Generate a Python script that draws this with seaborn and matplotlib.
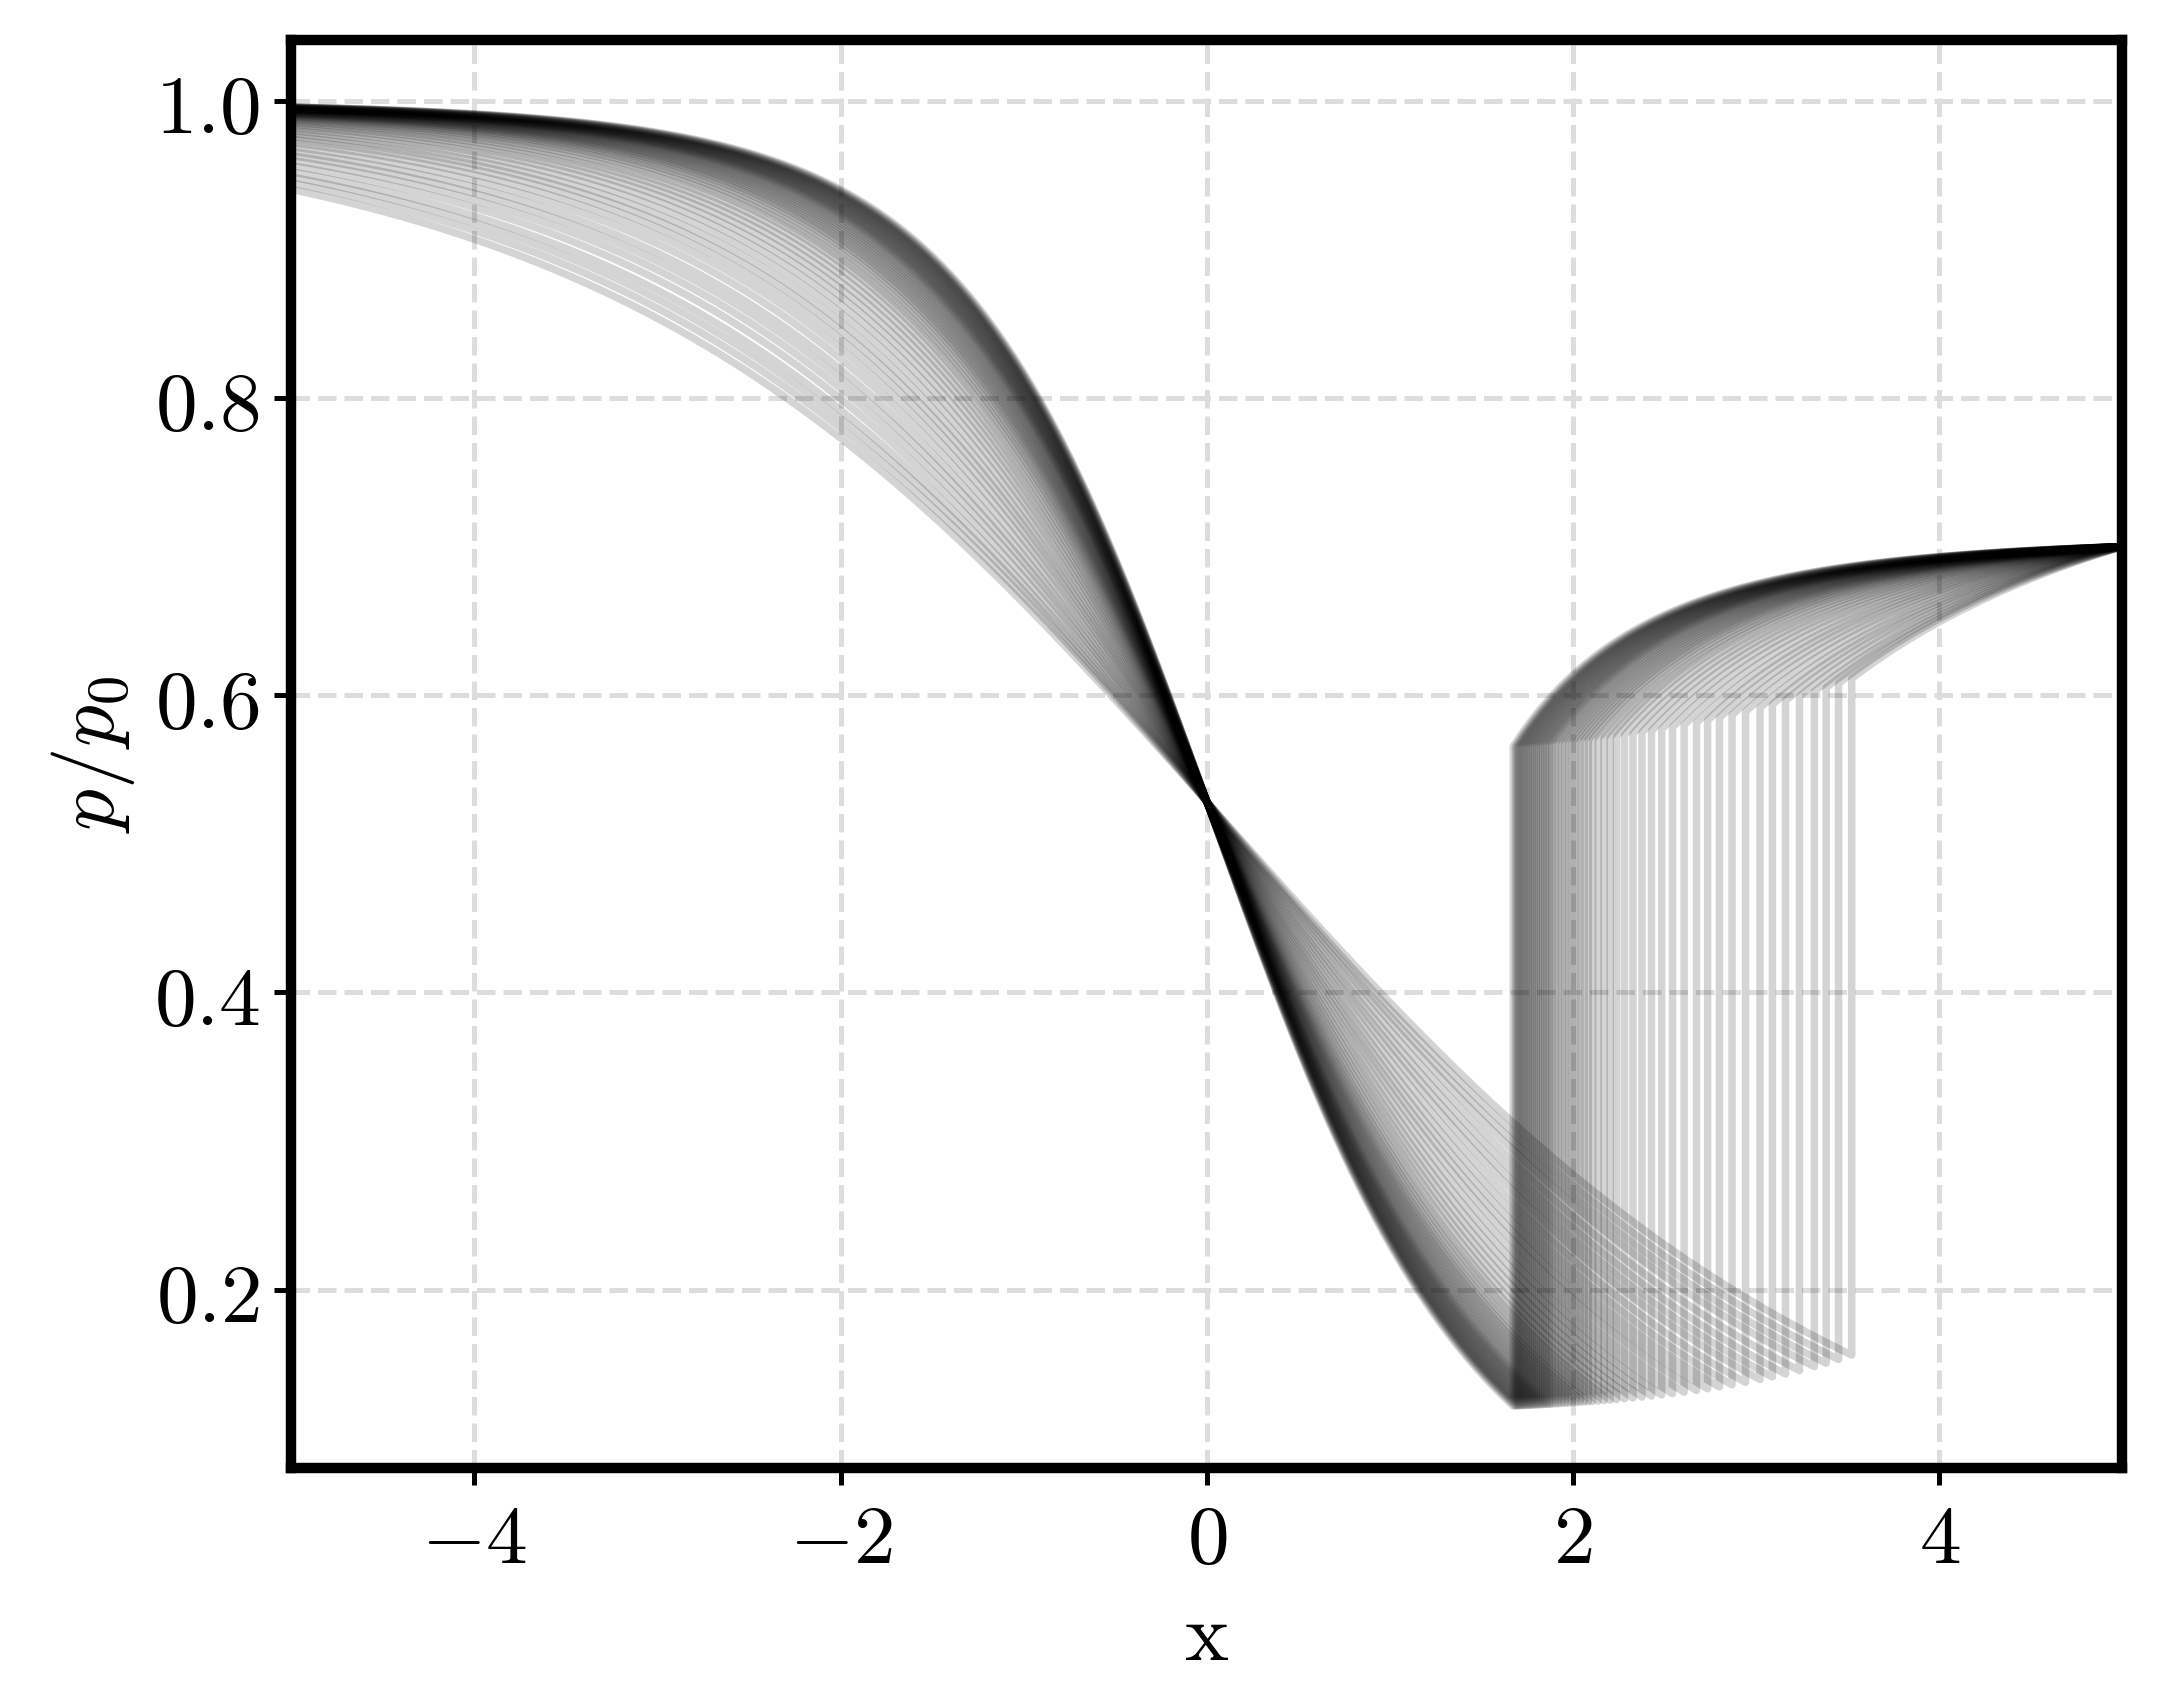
import numpy as np
import matplotlib
matplotlib.use("Agg")
import matplotlib.pyplot as plt
import seaborn as sns

# nozzle area coefficients A(x)=1+k x^2, read from inlet pressures at x=-5
k_values = [0.262, 0.258, 0.255, 0.252, 0.249, 0.246, 0.243, 0.240, 0.237, 0.234,
            0.231, 0.228, 0.225, 0.222, 0.219, 0.216, 0.213, 0.210, 0.207, 0.204,
            0.200, 0.196, 0.192, 0.188, 0.184, 0.180, 0.176, 0.172, 0.168, 0.164,
            0.160, 0.155, 0.150, 0.145, 0.140, 0.134, 0.128, 0.122, 0.116, 0.110,
            0.104, 0.098, 0.092, 0.087, 0.082, 0.077, 0.072, 0.067, 0.063, 0.059,
            0.055, 0.051, 0.048, 0.045, 0.042]
p_exit = 0.70
gamma = 1.4
x_ticks = [-4, -2, 0, 2, 4]
y_ticks = [0.2, 0.4, 0.6, 0.8, 1.0]

g = gamma
def iso(M): return (1 + (g-1)/2*M**2) ** (-g/(g-1))
def area_ratio(M): return (1/M)*((2/(g+1))*(1+(g-1)/2*M**2))**((g+1)/(2*(g-1)))
def mach(ar, sup):
    lo, hi = (1.0, 10.0) if sup else (1e-6, 1.0)
    lo = np.full_like(ar, lo); hi = np.full_like(ar, hi)
    for _ in range(80):
        mid = (lo+hi)/2
        f = area_ratio(mid) - ar
        if sup:
            lo = np.where(f < 0, mid, lo); hi = np.where(f < 0, hi, mid)
        else:
            lo = np.where(f > 0, mid, lo); hi = np.where(f > 0, hi, mid)
    return (lo+hi)/2
def shock(M1):
    M2 = np.sqrt((1+(g-1)/2*M1**2)/(g*M1**2-(g-1)/2))
    p2p1 = 1 + 2*g/(g+1)*(M1**2-1)
    p02p01 = p2p1*iso(M1)/iso(M2)
    return M2, p02p01
def exit_p(k, xs):
    A = lambda x: 1 + k*x**2
    M1 = mach(np.array([A(xs)]), True)
    _, r = shock(M1)
    Me = mach(np.array([A(5.0)*r[0]]), False)
    return r[0]*iso(Me)[0]

sns.set_style("white")
plt.rcParams['mathtext.fontset'] = 'cm'
plt.rcParams['font.family'] = ['DejaVu Serif']
plt.rcParams['text.color'] = 'black'
plt.rcParams['axes.labelcolor'] = 'black'
plt.rcParams['xtick.color'] = 'black'
plt.rcParams['ytick.color'] = 'black'
fig, ax = plt.subplots(figsize=(2157/300, 1702/300), dpi=300)
fig.subplots_adjust(left=0.135, right=0.984, top=0.976, bottom=0.137)

for k in k_values:
    lo, hi = 0.01, 5.0
    for _ in range(60):
        mid = (lo+hi)/2
        if exit_p(k, mid) > p_exit: lo = mid
        else: hi = mid
    xs = (lo+hi)/2
    A = lambda x: 1 + k*x**2
    x1 = np.linspace(-5, 0, 200)
    p1 = iso(mach(A(x1), False))
    x2 = np.linspace(0, xs, 150)[1:]
    p2 = iso(mach(A(x2), True))
    M1 = mach(np.array([A(xs)]), True)
    _, r = shock(M1)
    x3 = np.linspace(xs, 5, 150)
    p3 = r[0]*iso(mach(A(x3)*r[0], False))
    xx = np.concatenate([x1, x2, x3]); pp = np.concatenate([p1, p2, p3])
    sns.lineplot(x=xx, y=pp, ax=ax, color='black', alpha=0.17, lw=1.8,
                 estimator=None, sort=False)

ax.set_xlim(-5, 5); ax.set_ylim(0.08, 1.041)
ax.set_xticks(x_ticks); ax.set_xticklabels([f'${v}$' for v in x_ticks])
ax.set_yticks(y_ticks); ax.set_yticklabels([f'${v:.1f}$' for v in y_ticks])
ax.tick_params(labelsize=20, length=4, width=1.2, direction='out', left=True, bottom=True)
ax.grid(True, ls='--', color='#dddddd', lw=1.2)
for s in ax.spines.values():
    s.set_linewidth(2.5); s.set_color('black')
ax.set_xlabel(r'$\mathrm{x}$', fontsize=20)
ax.set_ylabel(r'$p/p_0$', fontsize=20)
fig.savefig('out.png', dpi=300)
